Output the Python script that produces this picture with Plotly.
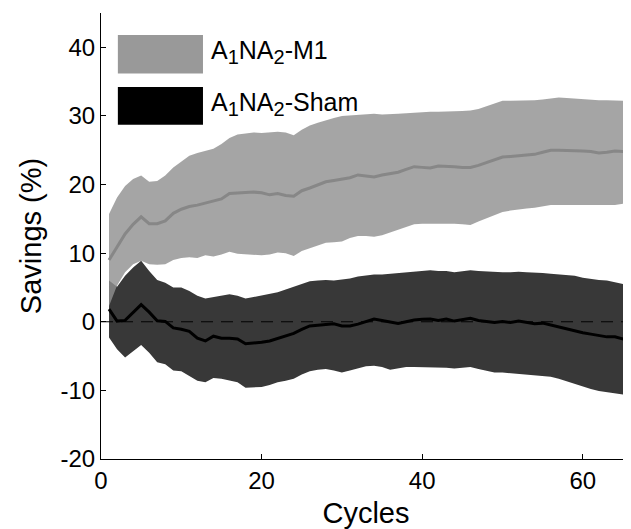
import plotly.graph_objects as go

cycles = list(range(1, 67))

m1_mean = [9.0, 10.8, 12.8, 14.2, 15.3, 14.3, 14.3, 14.7, 15.8, 16.4,
           16.8, 17.0, 17.3, 17.6, 17.9, 18.7, 18.8, 18.8, 18.9, 18.8,
           18.5, 18.7, 18.4, 18.3, 19.1, 19.5, 19.9, 20.4, 20.6, 20.8,
           21.0, 21.4, 21.2, 21.1, 21.4, 21.6, 21.8, 22.2, 22.6, 22.5,
           22.4, 22.7, 22.7, 22.6, 22.5, 22.5, 22.8, 23.2, 23.6, 24.0,
           24.1, 24.2, 24.3, 24.4, 24.7, 25.0, 25.0, 25.0, 24.9, 24.9,
           24.8, 24.6, 24.7, 24.9, 24.8, 24.7]
m1_upper = [15.7, 18.1, 19.8, 20.8, 21.3, 20.4, 20.5, 21.3, 22.5, 23.4,
            24.2, 24.6, 24.9, 25.2, 25.9, 26.8, 27.3, 27.4, 27.6, 27.5,
            27.6, 27.7, 27.6, 27.2, 28.0, 28.6, 29.0, 29.4, 29.7, 30.0,
            30.1, 30.2, 30.3, 30.3, 30.2, 30.2, 30.3, 30.4, 30.5, 30.6,
            30.6, 30.6, 30.6, 30.6, 30.7, 30.8, 31.0, 31.4, 31.8, 32.2,
            32.2, 32.2, 32.2, 32.3, 32.4, 32.6, 32.7, 32.6, 32.5, 32.5,
            32.4, 32.3, 32.3, 32.3, 32.2, 32.1]
m1_lower = [2.3, 5.3, 7.2, 8.4, 8.9, 8.4, 8.3, 8.4, 9.0, 9.3,
            9.4, 9.3, 9.7, 9.5, 9.8, 10.2, 9.9, 9.8, 9.7, 9.7,
            9.8, 10.1, 10.0, 9.6, 10.3, 10.7, 11.0, 11.5, 11.6, 11.7,
            12.2, 12.5, 12.5, 12.4, 12.6, 13.0, 13.4, 13.9, 14.2, 14.3,
            14.3, 14.3, 14.4, 14.3, 14.2, 14.1, 14.6, 15.1, 15.6, 16.0,
            16.2, 16.4, 16.5, 16.6, 16.8, 17.0, 17.0, 17.0, 17.0, 16.9,
            16.9, 16.9, 16.9, 17.0, 17.2, 17.2]

sham_mean = [1.85, 0.1, 0.2, 1.4, 2.5, 1.4, 0.15, 0.05, -0.9, -1.1,
             -1.4, -2.4, -2.8, -2.1, -2.4, -2.4, -2.5, -3.2, -3.15, -3.0,
             -2.8, -2.4, -2.1, -1.7, -1.1, -0.6, -0.5, -0.45, -0.3, -0.6,
             -0.6, -0.35, 0.0, 0.4, 0.2, 0.0, -0.25, 0.0, 0.25, 0.35,
             0.4, 0.2, 0.4, 0.1, 0.35, 0.5, 0.2, 0.0, -0.1, 0.05,
             -0.1, 0.1, -0.1, -0.3, -0.2, -0.5, -0.8, -1.0, -1.3, -1.6,
             -1.8, -2.0, -2.2, -2.2, -2.5, -2.2]
sham_upper = [6.0, 5.1, 6.7, 7.9, 8.9, 7.4, 6.1, 5.7, 5.0, 5.0,
              4.5, 3.8, 3.4, 3.6, 3.8, 4.0, 3.8, 3.4, 3.6, 3.8,
              4.0, 4.3, 4.7, 5.1, 5.5, 5.9, 6.0, 6.1, 6.0, 6.1,
              6.3, 6.6, 6.8, 6.9, 6.9, 7.0, 7.2, 7.3, 7.4, 7.5,
              7.5, 7.4, 7.4, 7.2, 7.4, 7.5, 7.4, 7.3, 7.3, 7.2,
              7.2, 7.3, 7.2, 7.2, 7.1, 7.0, 6.9, 6.8, 6.7, 6.4,
              6.2, 6.1, 6.0, 5.8, 5.5, 5.8]
sham_lower = [-2.3, -4.0, -5.2, -4.3, -3.4, -4.5, -5.9, -6.2, -7.1, -7.2,
              -7.9, -8.6, -8.8, -8.2, -8.3, -8.6, -8.8, -9.6, -9.6, -9.5,
              -9.2, -8.8, -8.6, -8.3, -7.7, -7.2, -7.0, -6.9, -7.1, -7.4,
              -7.1, -6.8, -6.5, -6.4, -6.6, -7.0, -6.8, -6.6, -6.6, -6.6,
              -6.6, -6.7, -6.7, -6.8, -6.7, -6.6, -6.9, -7.2, -7.4, -7.4,
              -7.5, -7.5, -7.6, -7.7, -7.8, -8.0, -8.3, -8.7, -9.1, -9.4,
              -9.8, -10.1, -10.3, -10.4, -10.6, -10.3]

SUB = "<sub><span style='font-size:20px'>{}</span></sub>"
legend_labels = ["A" + SUB.format("1") + "NA" + SUB.format("2") + "-M1",
                 "A" + SUB.format("1") + "NA" + SUB.format("2") + "-Sham"]
x_ticks = [0, 20, 40, 60]
y_ticks = [-20, -10, 0, 10, 20, 30, 40]
y_ticklabels = ["-20", "-10", "0", "10", "20", "30", "40"]

FONT = "Liberation Sans, Arial, sans-serif"
FS = 24

fig = go.Figure()
# Sham band
fig.add_trace(go.Scatter(x=cycles, y=sham_lower, mode="lines", line=dict(width=0),
                         hoverinfo="skip", showlegend=False))
fig.add_trace(go.Scatter(x=cycles, y=sham_upper, mode="lines", line=dict(width=0),
                         fill="tonexty", fillcolor="#383838",
                         hoverinfo="skip", showlegend=False))
# M1 band (semi-transparent so overlap appears mid gray)
fig.add_trace(go.Scatter(x=cycles, y=m1_lower, mode="lines", line=dict(width=0),
                         hoverinfo="skip", showlegend=False))
fig.add_trace(go.Scatter(x=cycles, y=m1_upper, mode="lines", line=dict(width=0),
                         fill="tonexty", fillcolor="rgba(144,144,144,0.81)",
                         hoverinfo="skip", showlegend=False))
# zero dashed line
fig.add_trace(go.Scatter(x=[0, 66], y=[0, 0], mode="lines",
                         line=dict(color="black", width=1, dash="12px,8px"),
                         hoverinfo="skip", showlegend=False))
# means
fig.add_trace(go.Scatter(x=cycles, y=sham_mean, mode="lines",
                         line=dict(color="black", width=3),
                         showlegend=False))
fig.add_trace(go.Scatter(x=cycles, y=m1_mean, mode="lines",
                         line=dict(color="#878787", width=3),
                         showlegend=False))

# manual legend
swatch_colors = ["#999999", "#000000"]
swatch_y = [(36.2, 41.8), (28.7, 34.2)]
for col, (y0, y1), lab in zip(swatch_colors, swatch_y, legend_labels):
    fig.add_shape(type="rect", xref="x", yref="y", x0=2.1, x1=12.7, y0=y0, y1=y1,
                  fillcolor=col, line=dict(width=0))
    fig.add_annotation(x=13.4, y=(y0 + y1) / 2 + 0.3, xref="x", yref="y", text=lab,
                       showarrow=False, xanchor="left", yanchor="middle",
                       font=dict(family=FONT, size=25, color="black"))

# the page body has an 8px margin; compensate so the plot area lands where
# the reference has it
fig.update_layout(
    width=623, height=521,
    margin=dict(l=93, r=0, t=5, b=70),
    paper_bgcolor="white", plot_bgcolor="white",
    font=dict(family=FONT, size=FS, color="black"),
    showlegend=False,
)
fig.update_xaxes(range=[0, 66], tickvals=x_ticks, ticks="inside", ticklen=5,
                 tickcolor="black", showline=True, linecolor="black", linewidth=1,
                 showgrid=False, zeroline=False, automargin=False,
                 title=dict(text="Cycles", standoff=10),
                 tickfont=dict(size=FS))
fig.update_yaxes(range=[-20, 45], tickvals=y_ticks, ticktext=y_ticklabels,
                 ticks="inside", ticklen=5,
                 tickcolor="black", showline=True, linecolor="black", linewidth=1,
                 showgrid=False, zeroline=False, automargin=False,
                 title=dict(text="Savings (%)", standoff=10),
                 tickfont=dict(size=FS))

fig.write_html("out.html")
